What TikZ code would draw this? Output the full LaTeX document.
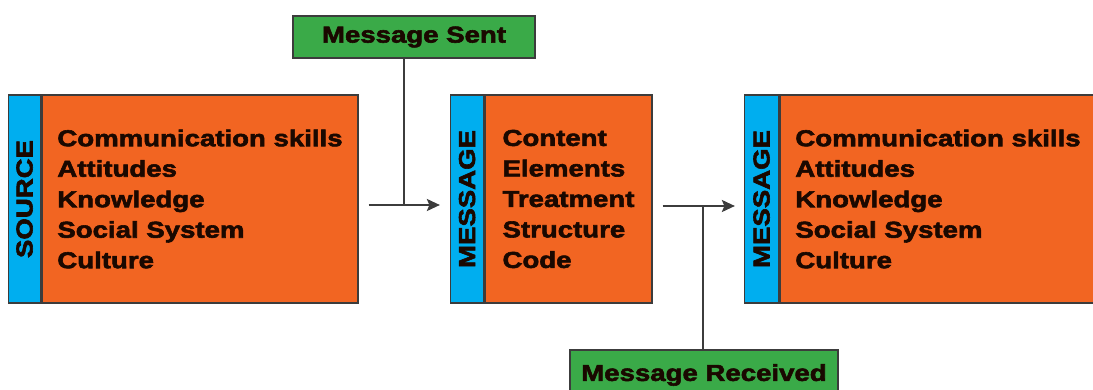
\documentclass[tikz,border=0pt]{standalone}
\usepackage{fontspec}
\newfontfamily\boxfont[FakeStretch=1.2,FakeBold=2.5]{Liberation Sans Bold}
\usepackage{xcolor}
\usetikzlibrary{arrows.meta, positioning, calc}
\definecolor{boxorange}{HTML}{F26522}
\definecolor{stripblue}{HTML}{00AEEF}
\definecolor{taggreen}{HTML}{3AAA48}
\definecolor{edge}{HTML}{3C3C3C}
\definecolor{ink}{HTML}{1A0800}

\begin{document}
\begin{tikzpicture}[
    x=1pt, y=1pt,
    font=\boxfont\fontsize{23}{30.5}\selectfont,
    body/.style={rectangle, draw=edge, line width=1.4pt, fill=boxorange, text=ink, minimum height=208pt, align=left, inner sep=0pt},
    strip/.style={rectangle, draw=edge, line width=1.4pt, fill=stripblue, minimum height=208pt, inner sep=0pt},
    striptext/.style={rotate=90, text=ink, inner sep=0pt},
    tag/.style={rectangle, draw=edge, line width=1.4pt, fill=taggreen, text=ink, minimum width=242pt, minimum height=42pt, inner sep=0pt},
    conn/.style={draw=edge, line width=2.2pt, -{Stealth[length=13pt, width=12pt, inset=2.5pt]}},
    stem/.style={draw=edge, line width=2.2pt}
]
    \useasboundingbox (0,0) rectangle (1093,389);
    \clip (0,0) rectangle (1093,389);

    % Nodes
    \node (src) [body, minimum width=316pt] at (200,190) {Communication skills\\Attitudes\\Knowledge\\Social System\\Culture};
    \node (srcstrip) [strip, minimum width=32pt, left=0pt of src] {};
    \node (srclabel) [striptext] at (srcstrip) {SOURCE};

    \node (msg) [body, minimum width=167pt] at (568.5,190) {Content\\Elements\\Treatment\\Structure\\Code};
    \node (msgstrip) [strip, minimum width=33pt, left=0pt of msg] {};
    \node (msglabel) [striptext] at (msgstrip) {MESSAGE};

    \node (rcv) [body, minimum width=316pt] at (938,190) {Communication skills\\Attitudes\\Knowledge\\Social System\\Culture};
    \node (rcvstrip) [strip, minimum width=34pt, left=0pt of rcv] {};
    \node (rcvlabel) [striptext] at (rcvstrip) {MESSAGE};

    \node (sent) [tag] at (414,352) {Message Sent};
    \node (recv) [tag, minimum width=268pt, minimum height=50pt] at (704,14) {Message Received};

    % Flows
    \draw [conn, shorten <=10pt, shorten >=10pt] ([yshift=-6pt]src.east) -- coordinate[midway] (j1) ([yshift=-6pt]msgstrip.west);
    \draw [stem] (sent.south -| j1) -- (j1);
    \draw [conn, shorten <=10pt, shorten >=9pt] ([yshift=-7pt]msg.east) -- coordinate[pos=0.55] (j2) ([yshift=-7pt]rcvstrip.west);
    \draw [stem] (j2) -- (j2 |- recv.north);

\end{tikzpicture}
\end{document}
